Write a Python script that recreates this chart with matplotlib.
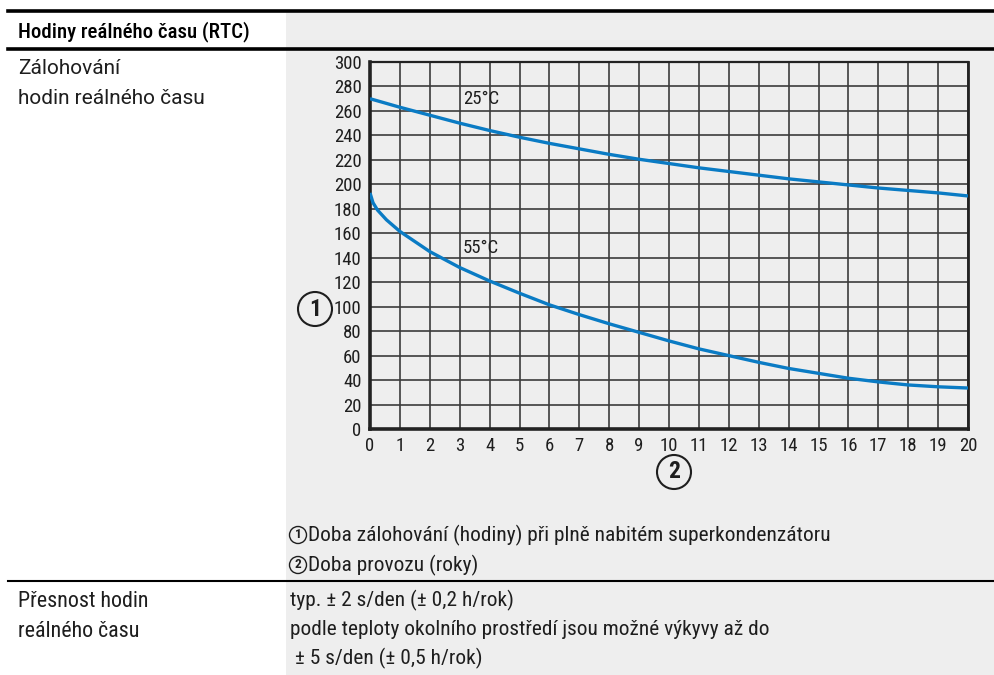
import matplotlib
matplotlib.use("Agg")
import matplotlib.pyplot as plt
from matplotlib import font_manager as fm
from matplotlib.patches import Ellipse, Rectangle
from matplotlib.lines import Line2D

W, H = 995, 675

# ---------------- data ----------------
years25 = list(range(0, 21))
hours25 = [270, 263, 256.5, 250, 244, 238.5, 233.5, 229, 224.5, 220.5, 217,
           213.5, 210.5, 207.5, 204.5, 202, 199.5, 197, 195, 193, 190.5]
years55 = [0, 0.1, 0.25, 0.55, 1, 2, 3, 4, 5, 6, 7, 8, 9, 10, 11, 12, 13, 14,
           15, 16, 17, 18, 19, 20]
hours55 = [193, 185, 179, 171, 161.5, 145, 132, 121, 111, 101.5, 93.5, 86,
           79, 72, 65.5, 60, 54.5, 49.5, 45.5, 41.5, 38.5, 36, 34.5, 33.5]
x_ticks = list(range(0, 21))
y_ticks = list(range(0, 301, 20))
curve_labels = ["25°C", "55°C"]
label_pos = [(3.1, 270), (3.1, 148)]

header = "Hodiny reálného času (RTC)"
row1_left = ["Zálohování", "hodin reálného času"]
legend_lines = ["Doba zálohování (hodiny) při plně nabitém superkondenzátoru",
                "Doba provozu (roky)"]
row2_left = ["Přesnost hodin", "reálného času"]
row2_right = ["typ. ± 2 s/den (± 0,2 h/rok)",
              "podle teploty okolního prostředí jsou možné výkyvy až do",
              " ± 5 s/den (± 0,5 h/rok)"]

# ---------------- fonts ----------------
_names = {f.name for f in fm.fontManager.ttflist}
_cond = next((n for n in ["Roboto Condensed", "Archivo Narrow", "Asap Condensed",
                          "Barlow Semi Condensed", "Encode Sans Condensed"] if n in _names),
             None)
COND = [_cond, "DejaVu Sans"] if _cond else ["DejaVu Sans"]
NORM = ["Roboto", "DejaVu Sans"] if "Roboto" in _names else ["DejaVu Sans"]

BLUE = "#0a7bc4"
GRAY = "#eeeeee"
INK = "#1e1e1e"


def fx(px):
    return px / W


def fy(py):
    return 1 - py / H


fig = plt.figure(figsize=(W / 100, H / 100), dpi=100)
fig.patch.set_facecolor("white")

# gray right column
fig.add_artist(Rectangle((fx(286), 0), 1 - fx(286), fy(12), transform=fig.transFigure,
                         facecolor=GRAY, edgecolor="none", zorder=0))


def hrule(y, lw):
    fig.add_artist(Line2D([fx(8), 1], [fy(y), fy(y)], transform=fig.transFigure,
                          color="black", lw=lw, zorder=5))


hrule(10.5, 2.6)
hrule(48.5, 2.6)
hrule(581, 1.5)

# texts
fig.text(fx(18), fy(37), header, family=COND, fontsize=15, fontweight="medium",
         va="baseline", ha="left", color="black")
for i, t in enumerate(row1_left):
    fig.text(fx(18), fy(74 + 30 * i), t, family=NORM, fontsize=15, va="baseline",
             ha="left", color=INK)
for i, t in enumerate(row2_left):
    fig.text(fx(18), fy(607 + 30 * i), t, family=COND, fontsize=15.8, va="baseline",
             ha="left", color=INK)
for i, t in enumerate(row2_right):
    fig.text(fx(290), fy(606 + 29 * i), t, family=COND, fontsize=15.4, va="baseline",
             ha="left", color=INK)
for i, t in enumerate(legend_lines):
    cy = 535 + 30 * i
    fig.text(fx(308), fy(cy + 6), t, family=COND, fontsize=15.4, va="baseline",
             ha="left", color=INK)
    fig.add_artist(Ellipse((fx(298), fy(cy)), 17 / W, 17 / H, transform=fig.transFigure,
                           facecolor="none", edgecolor=INK, lw=1.0))
    fig.text(fx(298), fy(cy), str(i + 1), family=COND, fontsize=9.5, fontweight="bold",
             va="center", ha="center", color=INK)

# big circled markers
for (cx, cy, s) in [(315, 309, "1"), (674, 472, "2")]:
    fig.add_artist(Ellipse((fx(cx), fy(cy)), 34 / W, 34 / H, transform=fig.transFigure,
                           facecolor="none", edgecolor=INK, lw=1.5))
    fig.text(fx(cx), fy(cy), s, family=COND, fontsize=17, fontweight="bold",
             va="center", ha="center", color=INK)

# ---------------- chart ----------------
ax = fig.add_axes([fx(370), fy(429), fx(968) - fx(370), (429 - 62) / H])
ax.set_facecolor(GRAY)
ax.set_xlim(0, 20)
ax.set_ylim(0, 300)
ax.set_xticks(x_ticks)
ax.set_yticks(y_ticks)
ax.set_xticklabels([str(v) for v in x_ticks], family=COND, fontsize=13.5, color=INK)
ax.set_yticklabels([str(v) for v in y_ticks], family=COND, fontsize=13.5, color=INK)
ax.tick_params(length=0, pad=6)
ax.grid(True, color="#3c3c3c", lw=1.2)
ax.set_axisbelow(True)
for side, lw in [("left", 2.6), ("bottom", 2.6), ("top", 1.6), ("right", 2.0)]:
    ax.spines[side].set_linewidth(lw)
    ax.spines[side].set_color("#222222")

ax.plot(years25, hours25, color=BLUE, lw=2.4, solid_joinstyle="round",
        solid_capstyle="butt", zorder=3)
ax.plot(years55, hours55, color=BLUE, lw=2.4, solid_joinstyle="round",
        solid_capstyle="butt", zorder=3)
for lab, (lx, ly) in zip(curve_labels, label_pos):
    ax.text(lx, ly, lab, family=COND, fontsize=13.5, va="center", ha="left", color=INK)

fig.savefig("out.png", dpi=100)
